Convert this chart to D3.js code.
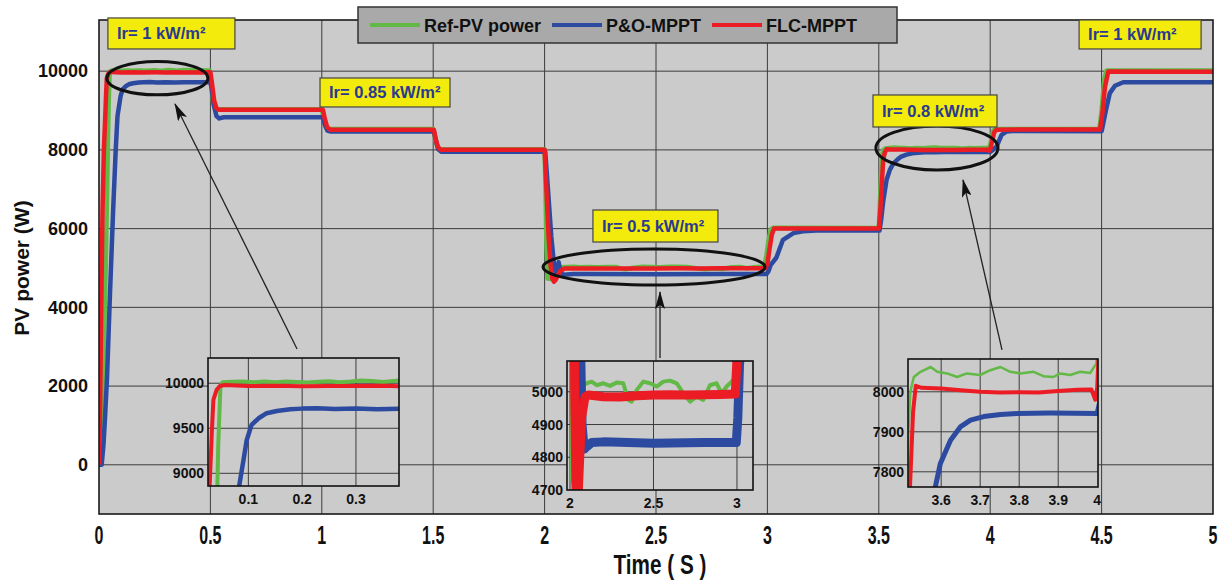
<!DOCTYPE html>
<html>
<head>
<meta charset="utf-8">
<script src="https://cdn.jsdelivr.net/npm/d3@7/dist/d3.min.js"></script>
<style>
  body { margin: 0; background: #fff; }
  text { font-family: "Liberation Sans", Arial, sans-serif; font-weight: bold; }
</style>
</head>
<body>
<svg id="chart" width="1220" height="580"></svg>
<script>
// PV power curves, [time (s), power (W)]
var refPower = [
  [0, 0], [0.01, 800], [0.02, 2500], [0.03, 5000], [0.036, 6800], [0.04, 8200], [0.044, 9300], [0.048, 9950], [0.052, 10010],
  [0.07, 10015], [0.09, 10020], [0.11, 10012], [0.13, 10018], [0.15, 10010], [0.17, 10020], [0.19, 10014], [0.21, 10008],
  [0.23, 10016], [0.25, 10022], [0.27, 10012], [0.29, 10018], [0.31, 10030], [0.33, 10024], [0.35, 10014], [0.37, 10026], [0.38, 10030],
  [0.497, 10015], [0.503, 9700], [0.512, 9200], [0.52, 9060], [0.53, 9030],
  [1.0, 9030], [1.008, 8800], [1.018, 8580], [1.03, 8530],
  [1.5, 8530], [1.508, 8300], [1.518, 8080], [1.53, 8015],
  [2.0, 8015], [2.004, 7000], [2.008, 5600], [2.013, 4730], [2.03, 4720], [2.055, 4850], [2.075, 4990],
  [2.08, 5020], [2.1, 5026], [2.13, 5031], [2.16, 5020], [2.2, 5026], [2.24, 5018], [2.279, 5028], [2.319, 5026],
  [2.349, 4975], [2.369, 4970], [2.399, 5005], [2.439, 5031], [2.479, 5026], [2.519, 5016], [2.559, 5031], [2.599, 5034],
  [2.639, 5026], [2.679, 4995], [2.719, 4970], [2.758, 4985], [2.798, 4975], [2.838, 5020], [2.878, 5026], [2.908, 4995],
  [2.938, 5016], [2.968, 5031], [2.985, 5040],
  [2.995, 5300], [3.005, 5700], [3.015, 5980], [3.025, 6020],
  [3.5, 6015], [3.504, 6500], [3.51, 7400], [3.516, 7900], [3.521, 8000],
  [3.53, 8037], [3.547, 8050], [3.573, 8062], [3.59, 8050], [3.615, 8046], [3.641, 8037], [3.666, 8046], [3.7, 8042],
  [3.726, 8054], [3.752, 8062], [3.777, 8050], [3.803, 8046], [3.837, 8050], [3.862, 8039], [3.888, 8037], [3.905, 8046],
  [3.931, 8042], [3.956, 8050], [3.982, 8047], [3.998, 8071],
  [4.006, 8300], [4.015, 8500], [4.025, 8530],
  [4.49, 8535], [4.5, 9000], [4.512, 9800], [4.522, 10020], [5.0, 10020]
];

var poPower = [
  [0, 0], [0.012, 0], [0.02, 500], [0.027, 1200], [0.036, 2200], [0.049, 4300], [0.063, 6400], [0.075, 8000],
  [0.083, 8860], [0.091, 9148], [0.097, 9370], [0.106, 9537], [0.119, 9611], [0.134, 9667], [0.153, 9692], [0.178, 9711],
  [0.2, 9718], [0.228, 9722], [0.26, 9715], [0.3, 9720], [0.34, 9712], [0.38, 9716],
  [0.5, 9720], [0.506, 9550], [0.515, 9150], [0.527, 8860], [0.54, 8800], [0.56, 8830],
  [1.005, 8830], [1.013, 8650], [1.025, 8490], [1.04, 8465],
  [1.503, 8465], [1.512, 8250], [1.522, 8020], [1.535, 7955],
  [2.003, 7950], [2.015, 7000], [2.03, 5800], [2.042, 5100], [2.05, 4875], [2.057, 5000], [2.063, 5150], [2.072, 4900],
  [2.085, 4825], [2.1, 4832], [2.13, 4845], [2.2, 4847], [2.5, 4843], [2.8, 4845], [2.996, 4845],
  [3.005, 4920], [3.015, 5080], [3.04, 5260], [3.07, 5716], [3.117, 5886], [3.16, 5935], [3.22, 5950],
  [3.503, 5950], [3.51, 6200], [3.52, 6700], [3.535, 7241], [3.55, 7500], [3.565, 7650], [3.585, 7762], [3.598, 7821],
  [3.624, 7879], [3.65, 7913], [3.675, 7929], [3.709, 7938], [3.752, 7943], [3.794, 7946], [3.88, 7947], [4.0, 7946],
  [4.01, 7990], [4.029, 8087], [4.051, 8384], [4.074, 8468], [4.1, 8478],
  [4.5, 8475], [4.508, 8690], [4.52, 9019], [4.537, 9443], [4.56, 9629], [4.597, 9720], [5.0, 9720]
];

var flcPower = [
  [0, 0], [0.005, 1500], [0.01, 4000], [0.016, 6500], [0.022, 8000], [0.028, 8850], [0.032, 9444], [0.035, 9815],
  [0.041, 9926], [0.047, 9970], [0.056, 9981],
  [0.1, 9968], [0.15, 9972], [0.2, 9966], [0.25, 9970], [0.3, 9968], [0.35, 9972], [0.38, 9966],
  [0.5, 9970], [0.507, 9700], [0.517, 9250], [0.527, 9060], [0.537, 9020],
  [1.005, 9020], [1.013, 8800], [1.024, 8580], [1.037, 8515],
  [1.503, 8515], [1.51, 8300], [1.52, 8090], [1.532, 8005],
  [2.0, 8005], [2.008, 7000], [2.018, 5800], [2.028, 5000], [2.035, 4720], [2.042, 4650], [2.05, 4700], [2.06, 4822],
  [2.07, 4924], [2.09, 4985], [2.11, 4990],
  [2.2, 4985], [2.3, 4984], [2.4, 4988], [2.5, 4990], [2.6, 4991], [2.7, 4990], [2.8, 4991], [2.9, 4992], [2.99, 4993],
  [3.0, 5100], [3.01, 5500], [3.02, 5850], [3.03, 6000],
  [3.5, 6000], [3.505, 6300], [3.512, 7000], [3.52, 7760], [3.528, 7950], [3.535, 8015],
  [3.55, 8010], [3.6, 8008], [3.65, 8004], [3.7, 8000], [3.75, 7998], [3.8, 7999], [3.85, 7998], [3.9, 8002],
  [3.95, 8005], [3.985, 8006], [3.995, 7980], [4.0, 8010],
  [4.008, 8200], [4.018, 8450], [4.028, 8515],
  [4.493, 8520], [4.503, 8900], [4.515, 9600], [4.53, 9990], [5.0, 9985]
];

var seriesNames = ["Ref-PV power", "P&O-MPPT", "FLC-MPPT"];

var xTicks = [0, 0.5, 1, 1.5, 2, 2.5, 3, 3.5, 4, 4.5, 5];
var yTicks = [0, 2000, 4000, 6000, 8000, 10000];

// ticks of the three zoomed windows
var zoomAXTicks = [0.1, 0.2, 0.3];
var zoomAYTicks = [9000, 9500, 10000];
var zoomBXTicks = [2, 2.5, 3];
var zoomBYTicks = [4700, 4800, 4900, 5000];
var zoomCXTicks = [3.6, 3.7, 3.8, 3.9, 4];
var zoomCYTicks = [7800, 7900, 8000];

var irLabels = ["Ir= 1 kW/m²", "Ir= 0.85 kW/m²", "Ir= 0.5 kW/m²", "Ir= 0.8 kW/m²", "Ir= 1 kW/m²"];

// ---- layout ----
var colors = ["#62b946", "#2c4aa0", "#ec1c24"];
var plot = { left: 99, right: 1213, top: 20, bottom: 514 };
var bgGrey = "#cbcbcb";

var svg = d3.select("#chart");
var defs = svg.append("defs");

var x = d3.scaleLinear().domain([0, 5]).range([plot.left, plot.right]);
var y = d3.scaleLinear().domain([-1250, 11300]).range([plot.bottom, plot.top]);

defs.append("clipPath").attr("id", "clip-main").append("rect")
  .attr("x", plot.left).attr("y", plot.top)
  .attr("width", plot.right - plot.left).attr("height", plot.bottom - plot.top);

// arrow head
defs.append("marker")
  .attr("id", "head")
  .attr("viewBox", "0 0 18 10")
  .attr("refX", 17).attr("refY", 5)
  .attr("markerWidth", 18).attr("markerHeight", 10)
  .attr("markerUnits", "userSpaceOnUse")
  .attr("orient", "auto")
  .append("path").attr("d", "M0,0 L18,5 L0,10 L4,5 Z").attr("fill", "#111");

svg.append("rect")
  .attr("x", plot.left).attr("y", plot.top)
  .attr("width", plot.right - plot.left).attr("height", plot.bottom - plot.top)
  .attr("fill", bgGrey);

// grid
var grid = svg.append("g").attr("stroke", "#3c3c3c").attr("stroke-width", 1);
grid.selectAll(".vgrid").data(xTicks.slice(1, -1)).enter().append("line")
  .attr("x1", function (d) { return x(d); }).attr("x2", function (d) { return x(d); })
  .attr("y1", plot.top).attr("y2", plot.bottom);
grid.selectAll(".hgrid").data(yTicks).enter().append("line")
  .attr("x1", plot.left).attr("x2", plot.right)
  .attr("y1", function (d) { return y(d); }).attr("y2", function (d) { return y(d); });

var series = [refPower, poPower, flcPower];

var mainLine = d3.line()
  .x(function (d) { return x(d[0]); })
  .y(function (d) { return y(d[1]); });

svg.append("g").attr("clip-path", "url(#clip-main)")
  .selectAll("path").data(series).enter().append("path")
  .attr("d", mainLine)
  .attr("fill", "none")
  .attr("stroke", function (d, i) { return colors[i]; })
  .attr("stroke-width", 4.5)
  .attr("stroke-linejoin", "round");

svg.append("rect")
  .attr("x", plot.left).attr("y", plot.top)
  .attr("width", plot.right - plot.left).attr("height", plot.bottom - plot.top)
  .attr("fill", "none").attr("stroke", "#1a1a1a").attr("stroke-width", 1.6);

// axes
var yAxis = svg.append("g")
  .attr("transform", "translate(" + plot.left + ",0)")
  .call(d3.axisLeft(y).tickValues(yTicks).tickFormat(function (d) { return String(d); }).tickSize(0).tickPadding(11));
yAxis.select(".domain").remove();
yAxis.selectAll("text").style("font-size", "18px").attr("fill", "#111");

// bottom labels use a condensed face: squeeze the regular one horizontally
var xAxis = svg.append("g")
  .attr("transform", "translate(0," + plot.bottom + ")");
xAxis.selectAll("text").data(xTicks).enter().append("text")
  .attr("transform", function (d) { return "translate(" + x(d) + ",30) scale(0.64,1)"; })
  .attr("text-anchor", "middle")
  .style("font-size", "25px").attr("fill", "#111")
  .text(function (d) { return String(d); });

svg.append("text")
  .attr("transform", "translate(29,268) rotate(-90)")
  .attr("text-anchor", "middle")
  .style("font-size", "21px")
  .attr("fill", "#111")
  .text("PV power (W)");

svg.append("text")
  .attr("transform", "translate(660,574) scale(0.74,1)")
  .attr("text-anchor", "middle")
  .style("font-size", "28px")
  .attr("fill", "#111")
  .text("Time ( S )");

// ellipses marking the zoomed regions: centre (s, W), half width (s), half height (W)
var marks = [
  { t: 0.262, p: 9822, dt: 0.227, dp: 424 },
  { t: 2.491, p: 5025, dt: 0.498, dp: 457 },
  { t: 3.761, p: 8050, dt: 0.274, dp: 560 }
];
svg.selectAll(".mark").data(marks).enter().append("ellipse")
  .attr("cx", function (d) { return x(d.t); })
  .attr("cy", function (d) { return y(d.p); })
  .attr("rx", function (d) { return x(d.t + d.dt) - x(d.t); })
  .attr("ry", function (d) { return y(d.p - d.dp) - y(d.p); })
  .attr("fill", "none").attr("stroke", "#111").attr("stroke-width", 3);

// arrows from the zoom windows to the ellipses
var arrows = [
  { t0: 0.889, p0: 2942, t1: 0.341, p1: 9167 },
  { t0: 2.518, p0: 2713, t1: 2.518, p1: 4390 },
  { t0: 4.053, p0: 2917, t1: 3.878, p1: 7236 }
];
svg.selectAll(".arrow").data(arrows).enter().append("line")
  .attr("x1", function (d) { return x(d.t0); }).attr("y1", function (d) { return y(d.p0); })
  .attr("x2", function (d) { return x(d.t1); }).attr("y2", function (d) { return y(d.p1); })
  .attr("stroke", "#222").attr("stroke-width", 1.3)
  .attr("marker-end", "url(#head)");

// zoom windows
var insets = [
  { box: [208, 358, 191, 128], xd: [0.025, 0.380], yd: [8859, 10280], xt: zoomAXTicks, yt: zoomAYTicks, widths: [4, 4.5, 4] },
  { box: [567, 361, 186, 129], xd: [1.982, 3.096], yd: [4700, 5094], xt: zoomBXTicks, yt: zoomBYTicks, widths: [4, 9, 9] },
  { box: [908, 359, 190, 128], xd: [3.515, 4.002], yd: [7762, 8082], xt: zoomCXTicks, yt: zoomCYTicks, widths: [2.5, 5, 4] }
];

insets.forEach(function (cfg, k) {
  var bx = cfg.box[0], by = cfg.box[1], bw = cfg.box[2], bh = cfg.box[3];
  var ix = d3.scaleLinear().domain(cfg.xd).range([bx, bx + bw]);
  var iy = d3.scaleLinear().domain(cfg.yd).range([by + bh, by]);
  var g = svg.append("g");

  defs.append("clipPath").attr("id", "clip-inset" + k).append("rect")
    .attr("x", bx).attr("y", by).attr("width", bw).attr("height", bh);

  g.append("rect").attr("x", bx).attr("y", by).attr("width", bw).attr("height", bh).attr("fill", bgGrey);

  var ig = g.append("g").attr("stroke", "#3c3c3c").attr("stroke-width", 1);
  ig.selectAll("line.v").data(cfg.xt.filter(function (d) { return ix(d) > bx + 2 && ix(d) < bx + bw - 2; }))
    .enter().append("line").attr("class", "v")
    .attr("x1", function (d) { return ix(d); }).attr("x2", function (d) { return ix(d); })
    .attr("y1", by).attr("y2", by + bh);
  ig.selectAll("line.h").data(cfg.yt.filter(function (d) { return iy(d) > by + 2 && iy(d) < by + bh - 2; }))
    .enter().append("line").attr("class", "h")
    .attr("x1", bx).attr("x2", bx + bw)
    .attr("y1", function (d) { return iy(d); }).attr("y2", function (d) { return iy(d); });

  var insetLine = d3.line()
    .x(function (d) { return ix(d[0]); })
    .y(function (d) { return iy(d[1]); });

  g.append("g").attr("clip-path", "url(#clip-inset" + k + ")")
    .selectAll("path").data(series).enter().append("path")
    .attr("d", insetLine)
    .attr("fill", "none")
    .attr("stroke", function (d, i) { return colors[i]; })
    .attr("stroke-width", function (d, i) { return cfg.widths[i]; })
    .attr("stroke-linejoin", "round");

  g.append("rect").attr("x", bx).attr("y", by).attr("width", bw).attr("height", bh)
    .attr("fill", "none").attr("stroke", "#111").attr("stroke-width", 1.6);

  g.selectAll("text.xl").data(cfg.xt).enter().append("text")
    .attr("x", function (d) { return ix(d); }).attr("y", by + bh + 18)
    .attr("text-anchor", "middle").style("font-size", "14px").attr("fill", "#111")
    .text(function (d) { return String(d); });
  g.selectAll("text.yl").data(cfg.yt).enter().append("text")
    .attr("x", bx - 4).attr("y", function (d) { return iy(d) + 5; })
    .attr("text-anchor", "end").style("font-size", "14px").attr("fill", "#111")
    .text(function (d) { return String(d); });
});

// irradiance tags: top-left corner (s, W) and box size in px
var tagPos = [
  { t: 0.040, p: 11352, w: 127, h: 31 },
  { t: 0.992, p: 9827, w: 130, h: 29 },
  { t: 2.217, p: 6473, w: 125, h: 32 },
  { t: 3.474, p: 9395, w: 124, h: 32 },
  { t: 4.399, p: 11301, w: 122, h: 29 }
];
var tags = svg.selectAll(".tag").data(tagPos).enter().append("g")
  .attr("transform", function (d) { return "translate(" + x(d.t) + "," + y(d.p) + ")"; });
tags.append("rect")
  .attr("width", function (d) { return d.w; }).attr("height", function (d) { return d.h; })
  .attr("fill", "#f3eb0c").attr("stroke", "#444").attr("stroke-width", 1.2);
tags.append("text")
  .attr("x", 9).attr("y", function (d) { return d.h / 2 + 6; })
  .style("font-size", "16.5px").attr("fill", "#2a3992")
  .text(function (d, i) { return irLabels[i]; });

// legend
var legend = svg.append("g");
legend.append("rect").attr("x", 358).attr("y", 7).attr("width", 539).attr("height", 36)
  .attr("fill", "#a9a9a9").attr("stroke", "#333").attr("stroke-width", 1.5);
var legendX = [370, 552, 712];
seriesNames.forEach(function (name, i) {
  legend.append("line")
    .attr("x1", legendX[i]).attr("x2", legendX[i] + 50)
    .attr("y1", 25).attr("y2", 25)
    .attr("stroke", colors[i]).attr("stroke-width", 4);
  legend.append("text")
    .attr("x", legendX[i] + 54).attr("y", 31.5)
    .style("font-size", "18px").attr("fill", "#111")
    .text(name);
});
</script>
</body>
</html>
